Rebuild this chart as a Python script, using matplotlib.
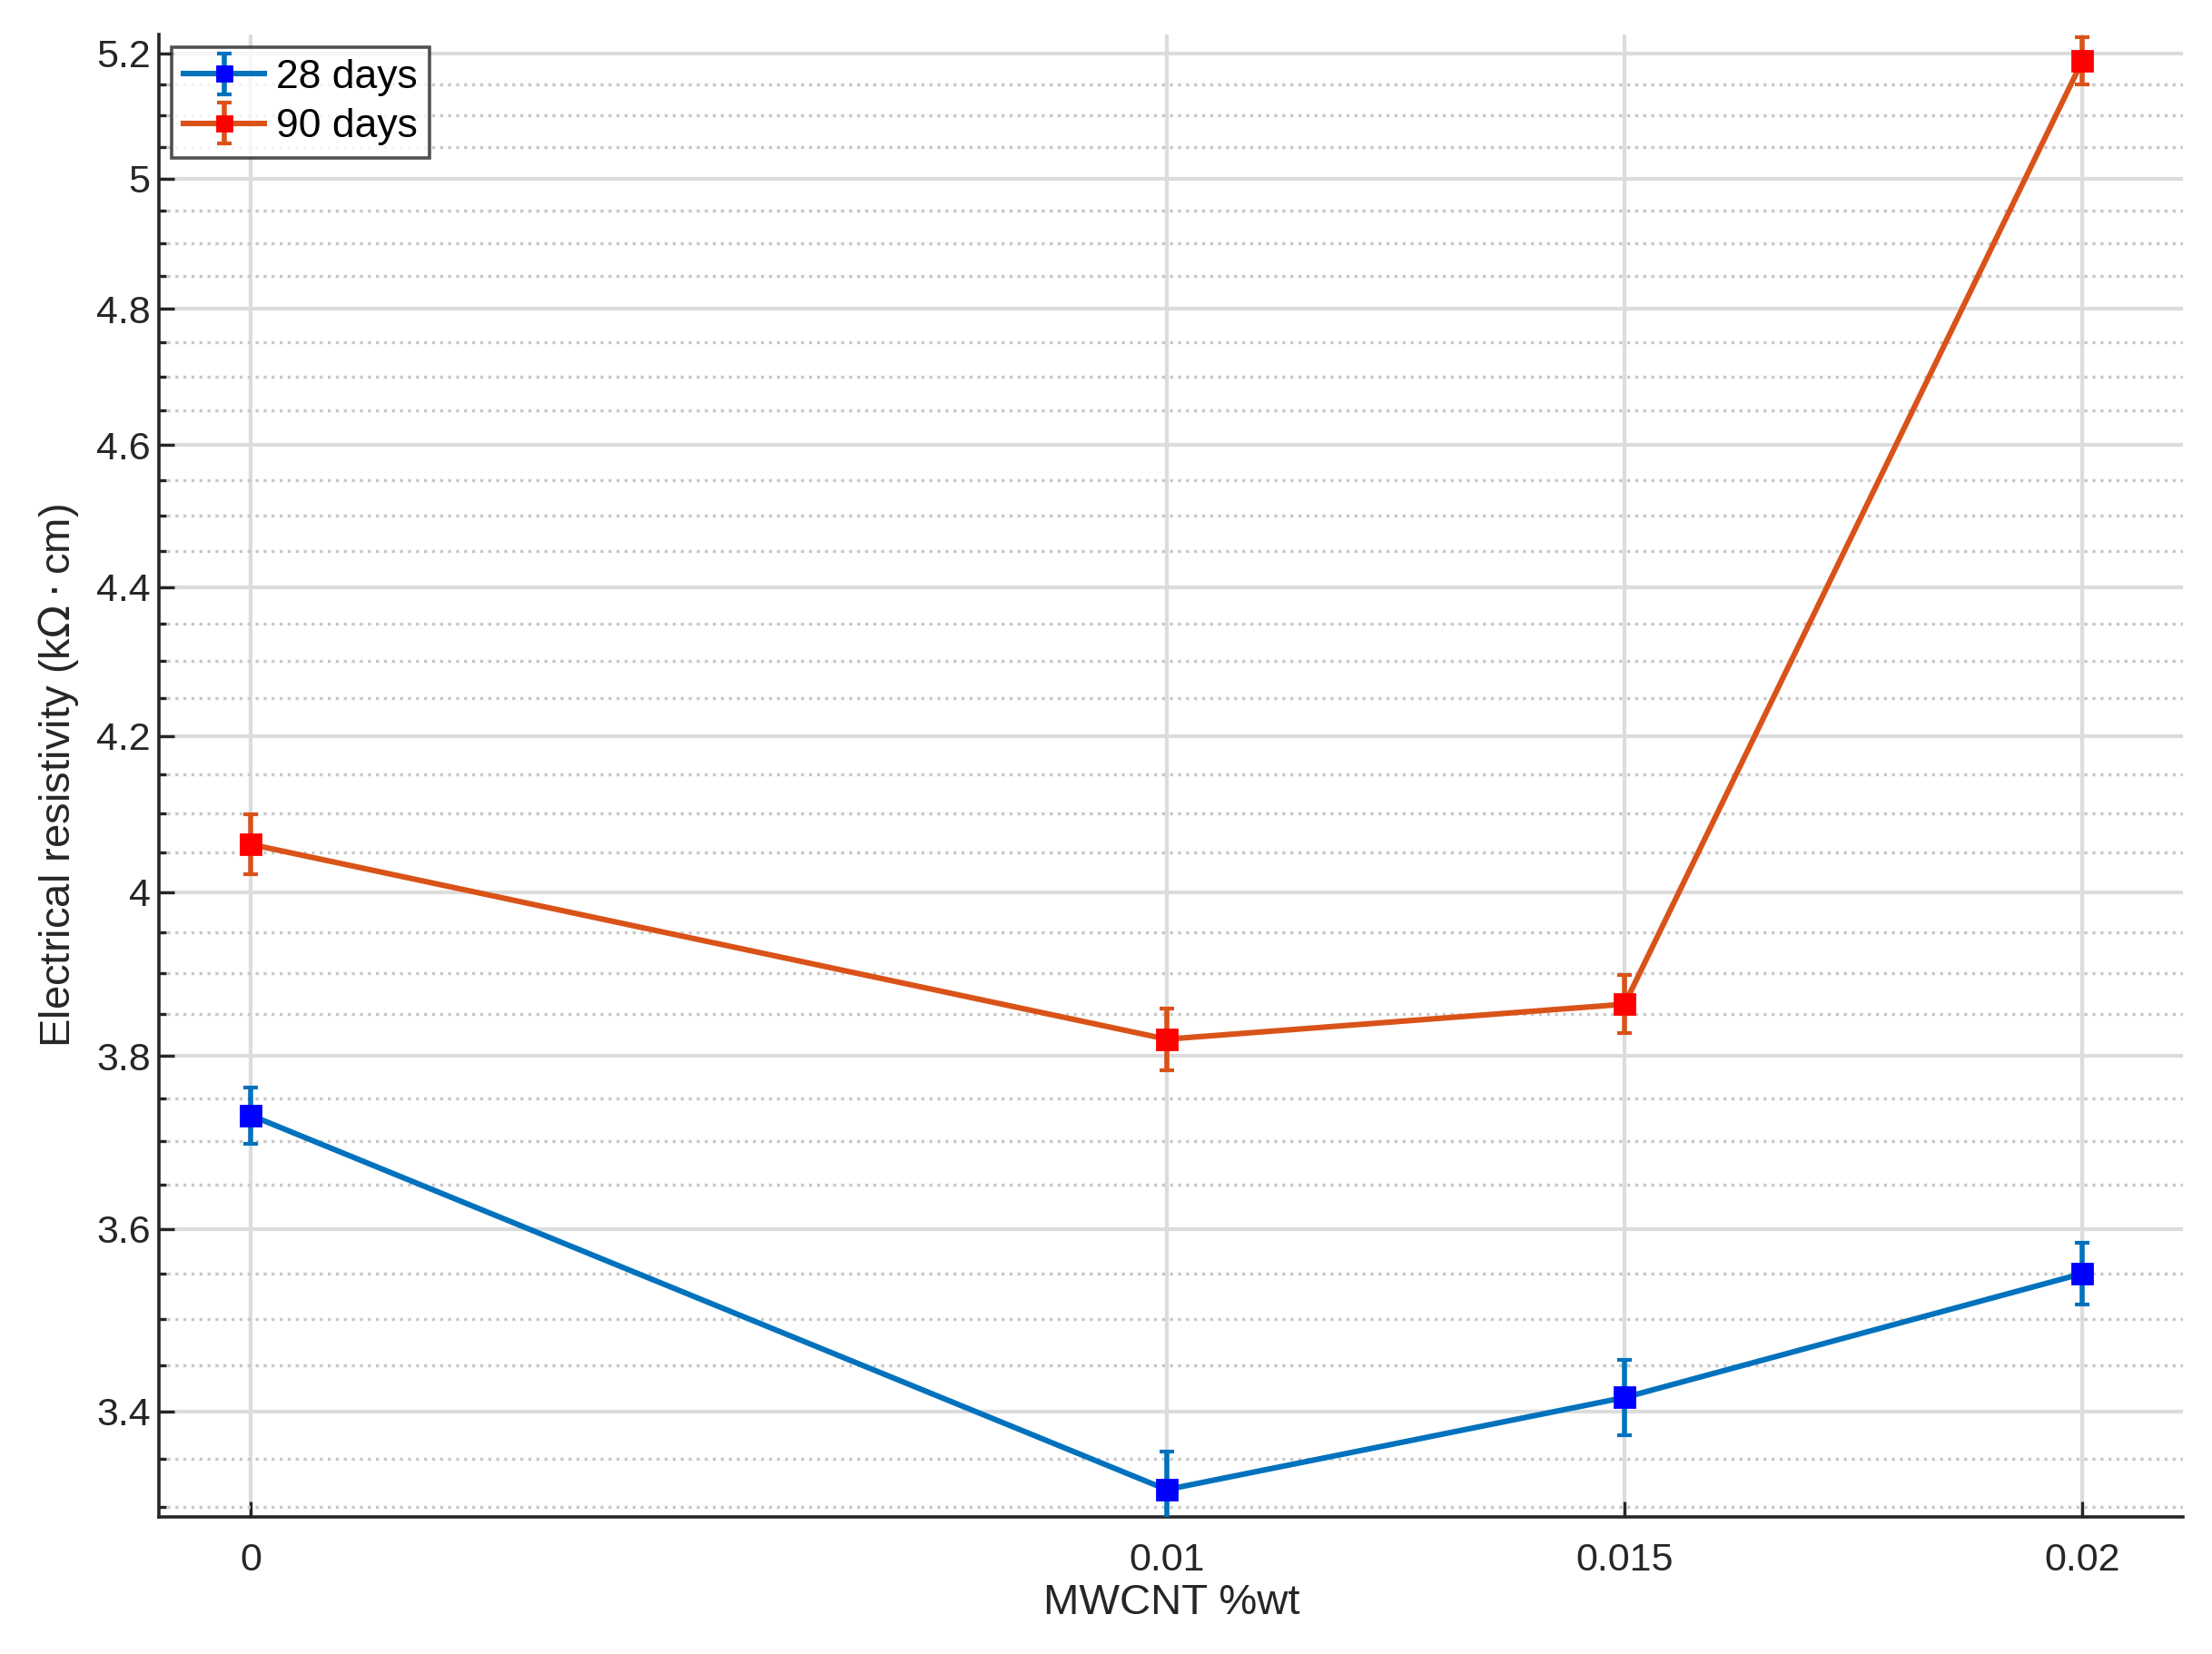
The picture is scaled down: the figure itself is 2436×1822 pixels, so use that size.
import numpy as np
import matplotlib.pyplot as plt
from matplotlib.ticker import FixedLocator, NullFormatter

plt.rcParams['font.family'] = ['Liberation Sans', 'DejaVu Sans']

x = [0, 0.01, 0.015, 0.02]
xlabels = ['0', '0.01', '0.015', '0.02']
r28 = [3.73, 3.318, 3.415, 3.55]
e28 = [0.033, 0.04, 0.04, 0.034]
r90 = [4.06, 3.82, 3.862, 5.188]
e90 = [0.038, 0.037, 0.035, 0.038]

fig = plt.figure(figsize=(12.18, 9.11), dpi=200)
ax = fig.add_axes([0.072, 0.083, 0.915, 0.896])

ax.errorbar(x, r28, yerr=e28, color='#0072BD', lw=2.2, capsize=3, capthick=1.5,
            elinewidth=2, marker='s', ms=8, mfc='#0000FF', mec='#0000FF', label='28 days', zorder=3)
ax.errorbar(x, r90, yerr=e90, color='#D95319', lw=2.2, capsize=3, capthick=1.5,
            elinewidth=2, marker='s', ms=8, mfc='#FF0000', mec='#FF0000', label='90 days', zorder=3)

ax.set_yscale('log')
ax.set_xlim(-0.001, 0.0211)
ax.set_ylim(3.29, 5.23)
ax.set_xticks(x)
ax.set_xticklabels(xlabels)
major = [3.4, 3.6, 3.8, 4.0, 4.2, 4.4, 4.6, 4.8, 5.0, 5.2]
ax.yaxis.set_major_locator(FixedLocator(major))
ax.set_yticklabels(['3.4', '3.6', '3.8', '4', '4.2', '4.4', '4.6', '4.8', '5', '5.2'])
minor = [v for v in np.arange(3.3, 5.25, 0.05) if min(abs(v - m) for m in major) > 0.01]
ax.yaxis.set_minor_locator(FixedLocator(minor))
ax.yaxis.set_minor_formatter(NullFormatter())

ax.grid(True, which='major', color='#dcdcdc', lw=1.5)
ax.grid(True, which='minor', axis='y', color='#c8c8c8', lw=1.2, ls=':')
ax.set_axisbelow(True)
for s in ['top', 'right']:
    ax.spines[s].set_visible(False)
for s in ['left', 'bottom']:
    ax.spines[s].set_linewidth(1.3)
    ax.spines[s].set_color('#262626')
ax.tick_params(which='both', direction='in', labelsize=15.5, colors='#262626', length=6, width=1.2)
ax.tick_params(axis='x', pad=10)
ax.tick_params(which='minor', length=3)

ax.set_xlabel('MWCNT %wt', fontsize=17, color='#262626', labelpad=2)
ax.set_ylabel('Electrical resistivity (k$\\Omega\\cdot$cm)', fontsize=17, color='#262626', labelpad=6)
leg = ax.legend(loc='upper left', fontsize=16, fancybox=False, edgecolor='#262626',
                borderaxespad=0.3, handlelength=2, markerscale=0.7, handletextpad=0.3,
                borderpad=0.3, labelspacing=0.3)
leg.get_frame().set_linewidth(1.3)

fig.savefig('out.png')
